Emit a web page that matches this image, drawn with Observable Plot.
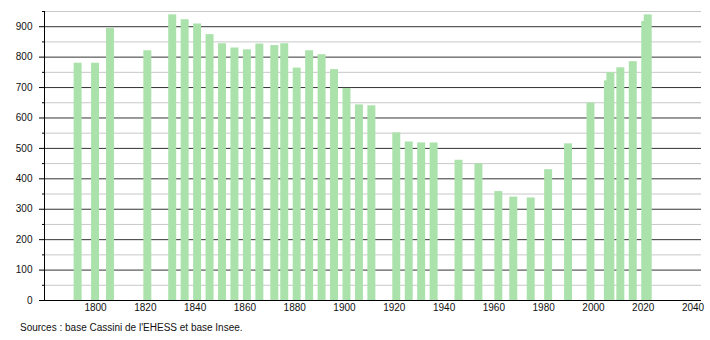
<!DOCTYPE html>
<html>
<head>
<meta charset="utf-8">
<script src="https://cdn.jsdelivr.net/npm/d3@7"></script>
<script src="https://cdn.jsdelivr.net/npm/@observablehq/plot@0.6"></script>
<style>
  body { margin: 0; background: #fff; }
  #chart svg { display: block; }
  #caption { font-family: "Liberation Sans", Arial, sans-serif; font-size: 10px; line-height: 12px; color: #111; padding-left: 20px; margin-top: 6px; }
</style>
</head>
<body>
<div id="chart"></div>
<div id="caption">Sources : base Cassini de l'EHESS et base Insee.</div>
<script>
const years = [1793,1800,1806,1821,1831,1836,1841,1846,1851,1856,1861,1866,1872,1876,1881,1886,1891,1896,1901,1906,1911,1921,1926,1931,1936,1946,1954,1962,1968,1975,1982,1990,1999,2006,2007,2011,2016,2021,2022];
const population = [780,780,894,821,939,923,909,874,844,830,824,843,838,844,764,821,808,759,697,643,640,551,521,518,518,461,449,358,340,337,430,515,649,722,749,765,785,917,939];
const yMajorTicks = [0,100,200,300,400,500,600,700,800,900];
const yMinorTicks = [50,150,250,350,450,550,650,750,850,950];
const xTicks = [1800,1820,1840,1860,1880,1900,1920,1940,1960,1980,2000,2020,2040];

const data = years.map((y, i) => ({year: y, pop: population[i]}));
const halfWidth = 1.6;

const chart = Plot.plot({
  width: 710,
  height: 316,
  marginLeft: 44,
  marginRight: 9,
  marginTop: 11,
  marginBottom: 16,
  style: {fontFamily: "'Liberation Sans', Arial, sans-serif", fontSize: "10px", color: "#111", background: "#fff"},
  x: {domain: [1779.5, 2043.4]},
  y: {domain: [0, 950]},
  marks: [
    Plot.gridY(yMinorTicks, {stroke: "#c8c8c8", strokeOpacity: 1}),
    Plot.gridY(yMajorTicks.filter(d => d > 0), {stroke: "#333", strokeOpacity: 1}),
    Plot.rectY(data, {x1: d => d.year - halfWidth, x2: d => d.year + halfWidth, y1: 0, y2: "pop", fill: "#abe2ab"}),
    Plot.frame({anchor: "left", stroke: "#000"}),
    Plot.ruleY([0], {stroke: "#000", strokeWidth: 1.2}),
    Plot.axisY(yMajorTicks, {tickSize: 5, tickPadding: 7, label: null, stroke: "#000"}),
    Plot.axisY(yMinorTicks, {tickSize: 2, text: null, label: null, stroke: "#000"}),
    Plot.axisX(xTicks, {tickSize: 0, tickPadding: 3, label: null, tickFormat: d => String(d)})
  ]
});
document.getElementById("chart").appendChild(chart);
</script>
</body>
</html>
